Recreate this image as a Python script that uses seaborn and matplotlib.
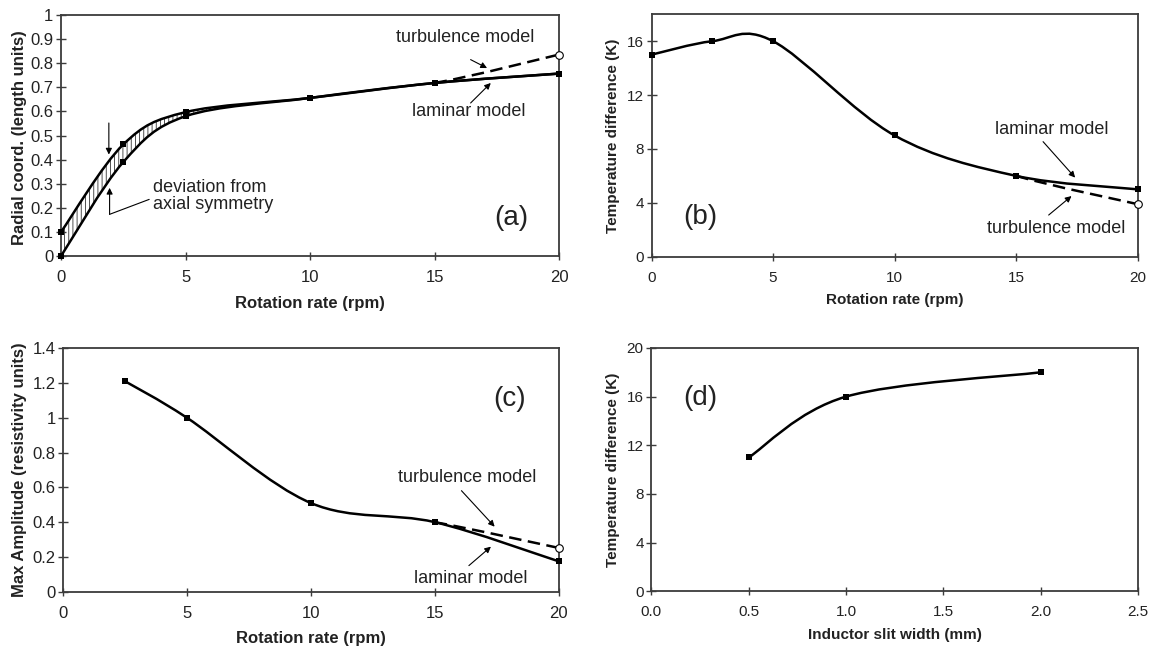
import numpy as np
import matplotlib
matplotlib.use("Agg")
import matplotlib.pyplot as plt
from matplotlib.path import Path
from matplotlib.patches import PathPatch
import seaborn as sns

# ---------------- data ----------------
# (a) radial coordinate vs rotation rate
a_x = [0, 2.5, 5, 10, 15, 20]
a_upper = [0.10, 0.463, 0.597, 0.656, 0.718, 0.757]
a_lower = [0.00, 0.390, 0.580, 0.656, 0.718, 0.757]
a_turb_x = [10, 15, 20]
a_turb_y = [0.656, 0.718, 0.836]

# (b) temperature difference vs rotation rate
b_x = [0, 2.5, 5, 10, 15, 20]
b_lam = [15, 16, 16, 9, 6, 5]
b_turb_x = [10, 15, 20]
b_turb_y = [9, 6, 3.9]

# (c) max amplitude vs rotation rate
c_x = [2.5, 5, 10, 15, 20]
c_lam = [1.21, 1.0, 0.51, 0.40, 0.175]
c_turb_x = [10, 15, 20]
c_turb_y = [0.51, 0.40, 0.252]

# (d) temperature difference vs inductor slit width
d_x = [0.5, 1.0, 2.0]
d_y = [11, 16, 18]

# tick labels
a_yticks = [0, 0.1, 0.2, 0.3, 0.4, 0.5, 0.6, 0.7, 0.8, 0.9, 1.0]
a_ylabels = ["0", "0.1", "0.2", "0.3", "0.4", "0.5", "0.6", "0.7", "0.8", "0.9", "1"]
rpm_ticks = [0, 5, 10, 15, 20]
b_yticks = [0, 4, 8, 12, 16]
c_yticks = [0, 0.2, 0.4, 0.6, 0.8, 1.0, 1.2, 1.4]
c_ylabels = ["0", "0.2", "0.4", "0.6", "0.8", "1", "1.2", "1.4"]
d_xticks = [0.0, 0.5, 1.0, 1.5, 2.0, 2.5]
d_xlabels = ["0.0", "0.5", "1.0", "1.5", "2.0", "2.5"]
d_yticks = [0, 4, 8, 12, 16, 20]

# ---------------- style ----------------
sns.set_theme(style="ticks", rc={
    "axes.edgecolor": "#3c3c3c",
    "axes.linewidth": 1.3,
    "xtick.color": "#3c3c3c",
    "ytick.color": "#3c3c3c",
    "xtick.labelcolor": "#222222",
    "ytick.labelcolor": "#222222",
    "hatch.linewidth": 0.6,
})
plt.rcParams["font.family"] = ["Liberation Sans", "DejaVu Sans"]

INK = "black"
TXT = "#222222"
LW = 1.8


def smooth_path(xs, ys):
    """Cubic Bezier segments through the points (spreadsheet-style smoothing)."""
    pts = np.column_stack([xs, ys]).astype(float)
    n = len(pts)
    verts = [pts[0]]
    codes = [Path.MOVETO]
    for i in range(n - 1):
        p0 = pts[i - 1] if i > 0 else pts[i]
        p1 = pts[i]
        p2 = pts[i + 1]
        p3 = pts[i + 2] if i + 2 < n else pts[i + 1]
        c1 = p1 + (p2 - p0) / 6.0
        c2 = p2 - (p3 - p1) / 6.0
        verts += [c1, c2, p2]
        codes += [Path.CURVE4] * 3
    return verts, codes


def smooth_line(ax, xs, ys, **kw):
    verts, codes = smooth_path(xs, ys)
    ax.add_patch(PathPatch(Path(verts, codes), facecolor="none",
                           edgecolor=INK, lw=LW, zorder=4, capstyle="round", **kw))


def markers(ax, xs, ys):
    sns.scatterplot(x=xs, y=ys, ax=ax, marker="s", s=16, color=INK,
                    edgecolor=INK, linewidth=0, clip_on=False, zorder=6, legend=False)


def turbulence(ax, xs, ys):
    # only the last smoothed segment is drawn; the earlier point sets its tangent
    verts, codes = smooth_path(xs, ys)
    seg = [verts[-4]] + verts[-3:]
    ax.add_patch(PathPatch(Path(seg, [Path.MOVETO] + [Path.CURVE4] * 3),
                           facecolor="none", edgecolor=INK, lw=LW,
                           linestyle=(0, (5, 2.6)), zorder=3))
    sns.scatterplot(x=xs[-1:], y=ys[-1:], ax=ax, marker="o", s=30, color="white",
                    edgecolor=INK, linewidth=0.8, clip_on=False, zorder=7, legend=False)


def note(ax, text, xy_text, tail, head, fs=13):
    ax.text(*xy_text, text, ha="center", va="center", fontsize=fs, color=TXT)
    ax.annotate("", xy=head, xytext=tail,
                arrowprops=dict(arrowstyle="-|>", color=INK, lw=0.8,
                                mutation_scale=9, shrinkA=0, shrinkB=0))


def style_axes(ax, big):
    tfs = 12 if big else 11
    ax.tick_params(axis="y", direction="inout", length=7, width=1.0,
                   labelsize=tfs, pad=2)
    ax.tick_params(axis="x", direction="inout", length=6, width=1.0,
                   labelsize=tfs, pad=7)
    for s in ax.spines.values():
        s.set_visible(True)
    ax.set_facecolor("white")


fig = plt.figure(figsize=(11.54, 6.48), dpi=100)

ax_a = fig.add_axes([0.0529, 0.6049, 0.4315, 0.3719])
ax_b = fig.add_axes([0.5646, 0.6039, 0.4212, 0.3741])
ax_c = fig.add_axes([0.0548, 0.0869, 0.4292, 0.3756])
ax_d = fig.add_axes([0.5644, 0.0875, 0.4217, 0.3755])

# ---------------- (a) ----------------
ax = ax_a
uv, uc = smooth_path(a_x, a_upper)
lv, lc = smooth_path(a_x, a_lower)
band_verts = uv + lv[::-1] + [uv[0]]
band_codes = uc + [Path.LINETO] + [Path.CURVE4] * (len(lv) - 1) + [Path.CLOSEPOLY]
ax.add_patch(PathPatch(Path(band_verts, band_codes), facecolor="none",
                       edgecolor="#333333", lw=0, hatch="||||", zorder=2))
smooth_line(ax, a_x, a_upper)
smooth_line(ax, a_x, a_lower)
turbulence(ax, a_turb_x, a_turb_y)
markers(ax, a_x, a_upper)
markers(ax, a_x, a_lower)
ax.set_xlim(0, 20)
ax.set_ylim(0, 1)
ax.set_xticks(rpm_ticks)
ax.set_yticks(a_yticks)
ax.set_yticklabels(a_ylabels)
style_axes(ax, True)
ax.set_xlabel("Rotation rate (rpm)", fontsize=12, fontweight="bold", color=TXT)
ax.set_ylabel("Radial coord. (length units)", fontsize=12, fontweight="bold", color=TXT)
ax.xaxis.set_label_coords(0.5, -0.166)
ax.yaxis.set_label_coords(-0.068, 0.49)
note(ax, "turbulence model", (16.25, 0.905), (16.45, 0.815), (17.11, 0.780))
note(ax, "laminar model", (16.37, 0.601), (16.45, 0.635), (17.26, 0.718))
ax.text(3.69, 0.249, "deviation from\naxial symmetry", ha="left", va="center",
        fontsize=13, color=TXT, linespacing=1.05)
ax.annotate("", xy=(1.92, 0.421), xytext=(1.92, 0.552),
            arrowprops=dict(arrowstyle="-|>", color=INK, lw=0.8, mutation_scale=9,
                            shrinkA=0, shrinkB=0))
ax.annotate("", xy=(1.95, 0.283), xytext=(1.95, 0.173),
            arrowprops=dict(arrowstyle="-|>", color=INK, lw=0.8, mutation_scale=9,
                            shrinkA=0, shrinkB=0))
ax.plot([1.95, 3.54], [0.173, 0.235], color=INK, lw=0.8)
ax.text(18.07, 0.159, "(a)", ha="center", va="center", fontsize=20, color=TXT)

# ---------------- (b) ----------------
ax = ax_b
turbulence(ax, b_turb_x, b_turb_y)
smooth_line(ax, b_x, b_lam)
markers(ax, b_x, b_lam)
ax.set_xlim(0, 20)
ax.set_ylim(0, 18)
ax.set_xticks(rpm_ticks)
ax.set_yticks(b_yticks)
style_axes(ax, False)
ax.set_xlabel("Rotation rate (rpm)", fontsize=11, fontweight="bold", color=TXT)
ax.set_ylabel("Temperature difference (K)", fontsize=11, fontweight="bold", color=TXT)
ax.xaxis.set_label_coords(0.5, -0.151)
ax.yaxis.set_label_coords(-0.064, 0.5)
note(ax, "laminar model", (16.48, 9.46), (16.11, 8.54), (17.43, 5.87))
note(ax, "turbulence model", (16.67, 2.10), (16.34, 3.09), (17.28, 4.50))
ax.text(2.0, 2.97, "(b)", ha="center", va="center", fontsize=20, color=TXT)

# ---------------- (c) ----------------
ax = ax_c
turbulence(ax, c_turb_x, c_turb_y)
smooth_line(ax, c_x, c_lam)
markers(ax, c_x, c_lam)
ax.set_xlim(0, 20)
ax.set_ylim(0, 1.4)
ax.set_xticks(rpm_ticks)
ax.set_yticks(c_yticks)
ax.set_yticklabels(c_ylabels)
style_axes(ax, True)
ax.set_xlabel("Rotation rate (rpm)", fontsize=12, fontweight="bold", color=TXT)
ax.set_ylabel("Max Amplitude (resistivity units)", fontsize=12, fontweight="bold", color=TXT)
ax.xaxis.set_label_coords(0.5, -0.163)
ax.yaxis.set_label_coords(-0.073, 0.5)
note(ax, "turbulence model", (16.30, 0.658), (16.08, 0.581), (17.42, 0.374))
note(ax, "laminar model", (16.45, 0.073), (16.38, 0.150), (17.27, 0.259))
ax.text(18.01, 1.108, "(c)", ha="center", va="center", fontsize=20, color=TXT)

# ---------------- (d) ----------------
ax = ax_d
smooth_line(ax, d_x, d_y)
markers(ax, d_x, d_y)
ax.set_xlim(0, 2.5)
ax.set_ylim(0, 20)
ax.set_xticks(d_xticks)
ax.set_xticklabels(d_xlabels)
ax.set_yticks(d_yticks)
style_axes(ax, False)
ax.set_xlabel("Inductor slit width (mm)", fontsize=11, fontweight="bold", color=TXT)
ax.set_ylabel("Temperature difference (K)", fontsize=11, fontweight="bold", color=TXT)
ax.xaxis.set_label_coords(0.5, -0.151)
ax.yaxis.set_label_coords(-0.065, 0.5)
ax.text(0.251, 15.9, "(d)", ha="center", va="center", fontsize=20, color=TXT)

fig.savefig("out.png", dpi=100, facecolor="white")
